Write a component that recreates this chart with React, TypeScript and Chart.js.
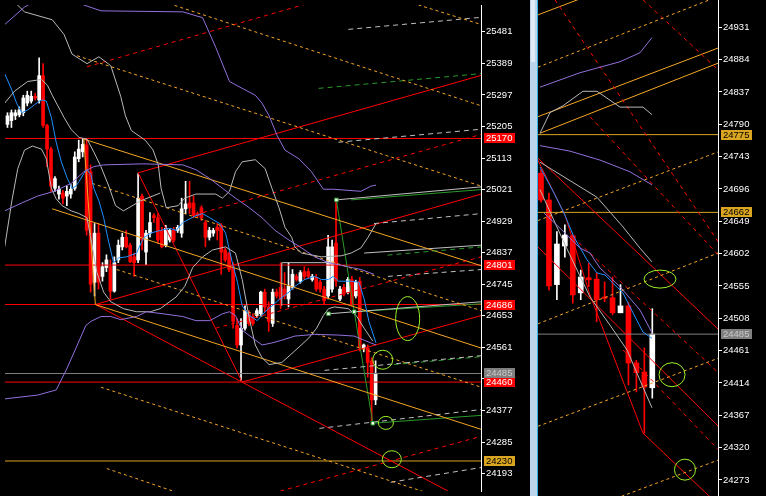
import React, { useEffect, useRef } from "react";
import { Chart, registerables } from "chart.js";
Chart.register(...registerables);

type Pt = [number, number];

// ---------- LEFT PANEL DATA ----------
const L_OPEN = [25211,25222,25236,25239,25245,25273,25279,25293,25282,25353,25208,25139,25025,25008,25011,25002,25008,25025,25111,25131,25151,25073,24751,24894,24768,24794,24796,24725,24816,24854,24882,24859,24825,24816,25002,24839,24894,24945,24939,24902,24859,24874,24902,24902,24894,24965,24982,24982,24951,24968,24925,24882,24894,24911,24917,24845,24836,24796,24625,24568,24617,24659,24651,24654,24659,24722,24679,24631,24722,24736,24731,24702,24736,24768,24754,24782,24782,24759,24765,24751,24731,24711,24731,24865,24702,24736,24722,24759,24711,24754,24559,24559,24522,24408];
const L_HIGH = [25245,25253,25253,25262,25296,25308,25308,25302,25405,25388,25211,25145,25059,25031,25019,25031,25036,25131,25165,25170,25168,25093,24922,24922,24808,24831,24816,24825,24874,24894,24902,24865,24836,25068,25008,24902,24954,24951,24951,24911,24917,24908,24911,24917,24996,25045,25045,25002,24956,24974,24931,24911,24908,24922,24922,24851,24839,24808,24645,24645,24682,24668,24659,24674,24725,24731,24694,24731,24731,24808,24779,24808,24788,24774,24785,24796,24791,24774,24774,24757,24739,24888,24874,24988,24739,24745,24765,24768,24757,24765,24571,24568,24531,24522];
const L_LOW = [25202,25202,25225,25233,25236,25265,25273,25282,25273,25202,25088,25016,25016,24993,24979,24974,24996,25019,25102,25116,24888,24722,24711,24731,24754,24782,24702,24722,24808,24845,24851,24808,24768,24808,24845,24802,24882,24925,24865,24851,24854,24868,24868,24896,24882,24951,24951,24939,24939,24931,24854,24874,24885,24874,24774,24811,24782,24617,24559,24465,24611,24625,24625,24648,24654,24665,24608,24622,24705,24674,24702,24679,24731,24754,24748,24759,24762,24754,24725,24722,24688,24702,24722,24739,24697,24711,24717,24682,24705,24551,24548,24474,24340,24394];
const L_CLOSE = [25236,25245,25245,25253,25288,25296,25293,25288,25353,25208,25139,25031,25053,25022,24996,25016,25022,25116,25139,25153,24902,24745,24894,24751,24796,24816,24725,24808,24859,24882,24854,24811,24808,24996,24874,24894,24925,24939,24874,24854,24908,24902,24874,24911,24965,24979,24968,24945,24945,24939,24882,24902,24902,24902,24839,24816,24788,24637,24568,24617,24668,24631,24631,24668,24722,24679,24637,24722,24711,24702,24711,24739,24774,24759,24779,24768,24768,24768,24731,24731,24697,24854,24854,24754,24731,24717,24759,24688,24751,24559,24568,24517,24408,24485];

const L_TICKS = [25481,25389,25297,25205,25113,25021,24929,24837,24745,24653,24561,24469,24377,24285,24193];
const L_RED_LEVELS = [25170, 24801, 24686, 24460];
const L_GRAY_LEVELS = [24485];
const L_GOLD_LEVELS = [24230];

const L_BLUE: Pt[] = [[-0.7,25359],[1.1,25311],[2.3,25273],[3.6,25245],[5.1,25253],[6.8,25268],[8.1,25279],[8.8,25282],[9.8,25279],[11.1,25231],[12.3,25159],[13.6,25102],[15.1,25054],[16.3,25025],[17.3,25031],[18.1,25045],[19.3,25068],[20.1,25079],[21.1,25065],[21.8,25025],[23.1,24988],[24.3,24939],[25.3,24882],[26.8,24808],[28.1,24822],[30.1,24825],[32.6,24836],[34.3,24879],[36.1,24894],[38.6,24902],[41.1,24908],[42.6,24902],[44.3,24925],[47.6,24945],[49.3,24951],[51.1,24939],[53.6,24922],[55.1,24894],[56.8,24808],[58.1,24751],[59.3,24682],[61.1,24654],[63.1,24639],[65.1,24665],[66.8,24682],[68.8,24702],[71.1,24722],[72.6,24739],[75.1,24759],[77.6,24768],[79.3,24759],[81.1,24759],[82.3,24768],[83.6,24754],[86.8,24754],[88.8,24751],[90.1,24702],[91.3,24637],[93.1,24574]];
const L_BB_UP: Pt[] = [[1.3,25573],[4.3,25539],[11.3,25516],[14.3,25473],[16.3,25416],[20.1,25388],[23.1,25408],[26.1,25382],[28.6,25293],[29.8,25236],[31.3,25193],[34.8,25165],[36.8,25136],[38.1,25093],[38.8,25025],[40.1,24968],[43.1,24974],[44.8,24996],[47.6,25008],[52.6,25008],[54.3,24996],[56.1,25016],[57.6,25073],[59.3,25102],[62.6,25108],[65.1,25082],[66.8,25025],[68.6,24968],[70.1,24911],[71.8,24882],[72.6,24854],[74.3,24836],[79.3,24825],[84.3,24828],[86.8,24836],[89.3,24851],[91.1,24882],[93.1,24922]];
const L_BB_MID: Pt[] = [[-0.7,25273],[1.8,25308],[5.1,25336],[8.6,25342],[10.1,25325],[11.3,25296],[12.6,25268],[14.3,25231],[16.1,25196],[18.1,25173],[20.1,25168],[21.8,25131],[23.6,25088],[25.6,25031],[27.3,24974],[29.3,24959],[33.6,24988],[38.6,25011]];
const L_BB_LOW: Pt[] = [[-0.7,24854],[1.1,24988],[2.6,25082],[4.3,25136],[6.3,25148],[8.6,25139],[9.8,25111],[11.1,25025],[12.3,24994],[13.8,24974],[16.1,24959],[18.1,24951],[20.1,24939],[22.6,24779],[24.3,24722],[26.1,24694],[29.3,24674],[32.6,24665],[36.1,24665],[38.6,24674],[42.6,24708],[44.8,24739],[46.8,24794],[49.3,24825],[51.8,24845],[55.1,24854],[57.6,24836],[59.3,24759],[61.1,24645],[62.6,24568],[64.3,24531],[66.1,24511],[69.3,24517],[72.6,24551],[76.1,24588],[78.1,24617],[79.8,24654],[81.1,24674],[82.6,24679],[86.1,24674],[88.1,24654],[90.1,24617],[92.3,24579]];
const L_PURPLE_TOP: Pt[] = [[-0.7,25502],[4.3,25553],[11.8,25602],[19.3,25559],[23.6,25542],[44.3,25539],[49.3,25522],[52.6,25436],[56.1,25336],[59.3,25316],[62.6,25296],[64.3,25273],[66.1,25236],[68.1,25179],[70.1,25136],[73.6,25111],[76.8,25073],[79.8,25022],[82.3,25022],[89.3,25016],[91.8,25031],[93.1,25034]];
const L_PURPLE_MID: Pt[] = [[-0.7,24959],[3.6,24982],[7.6,25002],[11.8,25016],[16.1,25039],[19.3,25073],[21.8,25088],[24.3,25093],[34.3,25096],[44.3,25093],[47.6,25079],[51.1,25053],[54.3,25025],[57.6,24996],[61.1,24968],[64.3,24939],[67.6,24902],[71.1,24874],[74.3,24851],[77.6,24825],[81.1,24808],[86.1,24796],[89.3,24788],[92.6,24774]];
const L_PURPLE_LOW: Pt[] = [[-0.7,24411],[7.6,24422],[12.3,24437],[14.8,24494],[17.3,24559],[19.8,24625],[21.1,24637],[23.6,24651],[26.1,24651],[28.6,24642],[32.6,24651],[35.1,24665],[39.3,24659],[44.3,24651],[47.6,24639],[51.1,24639],[54.3,24659],[56.1,24665],[57.6,24654],[59.3,24611],[64.3,24568],[66.8,24574],[69.3,24582],[72.6,24594],[77.6,24599],[83.6,24597],[87.6,24594],[90.1,24582],[93.1,24568]];

// trend objects (index, price)
const L_RED_SOLID: Pt[][] = [
  [[33,25070],[119.7,25354]],
  [[22.2,24686],[119.7,25008]],
  [[59.3,24460],[119.7,24654]],
  [[33,25070],[59.3,24460]],
  [[22.2,24686],[119.7,24091]],
];
const L_RED_DASH: Pt[][] = [
  [[20.1,25379],[90,25610]],
  [[49.4,24954],[119.7,25182]],
  [[52.6,24617],[119.7,24825]],
  [[65,24130],[119.7,24302]],
];
const L_ORANGE_SOLID: Pt[][] = [
  [[19.3,25168],[119.7,24799]],
  [[11.3,24965],[119.7,24559]],
  [[22.2,24686],[119.7,24322]],
  [[19.3,25168],[22.2,24686]],
];
const L_ORANGE_DASH: Pt[][] = [
  [[17.6,25411],[119.7,25031]],
  [[35,25585],[119.7,25265]],
  [[98,25580],[119.7,25502]],
  [[21.4,25039],[119.7,24668]],
  [[27.6,24788],[119.7,24445]],
  [[23.6,24445],[112,24115]],
  [[25.1,24208],[50,24110]],
];
const L_GRAY_DASH: Pt[][] = [
  [[86.1,25488],[119.7,25523]],
  [[83.6,25159],[119.7,25197]],
  [[92.6,24922],[119.7,24951]],
  [[96.1,24768],[119.7,24788]],
  [[80.1,24494],[119.7,24537]],
  [[78.8,24325],[119.7,24380]],
  [[96.8,24168],[119.7,24211]],
];
const L_GREEN_DASH: Pt[][] = [
  [[78.6,25316],[119.7,25359]],
  [[97.6,24511],[119.7,24534]],
  [[96,24830],[119.7,24854]],
];
const L_GRAY_SOLID: Pt[][] = [
  [[83.1,24991],[119.7,25029]],
  [[81.1,24659],[119.7,24694]],
  [[90.1,24836],[119.7,24859]],
  [[69.3,24682],[69.3,24808],[82.6,24808]],
];
const L_GREEN_SOLID: Pt[][] = [
  [[86.8,24991],[119.7,25021]],
  [[87.6,24665],[119.7,24688]],
  [[92.3,24340],[119.7,24363]],
  [[83.1,24991],[87.6,24665],[92.3,24340]],
];
const L_SQUARES: Pt[] = [[83.1,24991],[81.1,24659],[87.6,24665],[92.3,24340]];
const L_ELLIPSES: Pt[] = [[101.1,24645],[94.8,24525],[95.6,24341],[97.1,24235]];
const L_ELLIPSE_R: Pt[] = [[12,22],[10,9.5],[7.5,6.5],[9.5,8.5]];

// ---------- RIGHT PANEL DATA ----------
const R_OPEN = [24719,24680,24557,24613,24628,24545,24567,24565,24539,24538,24516,24526,24443,24430,24407];
const R_HIGH = [24724,24690,24634,24644,24629,24578,24588,24574,24561,24568,24557,24531,24447,24465,24522];
const R_LOW = [24677,24549,24535,24597,24530,24535,24554,24503,24532,24513,24516,24411,24401,24341,24392];
const R_CLOSE = [24680,24555,24616,24629,24542,24568,24564,24535,24537,24516,24526,24443,24429,24408,24485];

const R_TICKS = [24931,24884,24837,24790,24743,24696,24649,24602,24555,24508,24461,24414,24367,24320,24273];
const R_GOLD_LEVELS = [24775, 24662];
const R_GRAY_LEVELS = [24485];

const R_BLUE: Pt[] = [[-0.13,24728],[1.64,24690],[2.89,24661],[4.15,24626],[5.79,24593],[7.04,24574],[8.05,24571],[9.06,24559],[10.31,24545],[11.57,24516],[12.83,24488],[13.96,24479]];
const R_PURPLE_TOP: Pt[] = [[-0.13,24844],[4.91,24865],[9.94,24881],[12.45,24894],[13.96,24916]];
const R_PURPLE_MID: Pt[] = [[-0.13,24759],[3.65,24751],[7.42,24738],[11.19,24721],[13.96,24702]];
const R_PURPLE_LOW: Pt[] = [[0.38,24661],[2.39,24639],[4.91,24610],[6.16,24603],[7.42,24581],[9.94,24554],[12.45,24520],[13.96,24487]];
const R_GRAY_TOP: Pt[] = [[-0.13,24777],[1.13,24807],[2.77,24817],[5.28,24838],[7.04,24838],[9.94,24815],[12.83,24815],[13.96,24804]];
const R_GRAY_MID: Pt[] = [[-0.13,24735],[7.04,24684],[10.31,24641],[12.45,24610],[13.96,24590]];
const R_GRAY_LOW: Pt[] = [[-0.13,24695],[3.02,24615],[6.16,24539],[8.68,24498],[10.82,24462],[12.45,24418],[13.96,24378]];

const R_ORANGE_SOLID: Pt[][] = [
  [[-0.4,24801],[22.3,24901]],
  [[-0.13,24777],[22.3,24879]],
  [[-0.4,24949],[5.5,24975]],
];
const R_ORANGE_DASH: Pt[][] = [
  [[-0.4,24873],[22.3,24976]],
  [[-0.4,24650],[22.3,24750]],
  [[-0.4,24500],[22.3,24603]],
  [[-0.4,24351],[22.3,24450]],
  [[8,24240],[22.3,24302]],
];
const R_RED_SOLID: Pt[][] = [
  [[-0.4,24741],[22.3,24492]],
  [[-0.4,24612],[22.3,24351]],
  [[-0.4,24738],[3.02,24658],[6.16,24542],[12.83,24341],[22.3,24237]],
];
const R_RED_DASH: Pt[][] = [
  [[1.76,24971],[22.3,24619]],
  [[12.83,24971],[22.3,24869]],
  [[6.16,24801],[22.3,24600]],
  [[4,24626],[22.3,24429]],
  [[10.31,24462],[22.3,24317]],
];
const R_ELLIPSES: Pt[] = [[14.97,24565],[16.48,24426],[18.11,24288]];
const R_ELLIPSE_R: Pt[] = [[16,9],[13,12],[10.5,10.5]];

// ---------- STYLE ----------
const RED = "#ff0000";
const WHITE = "#ffffff";
const ORANGE = "#f5a623";
const GOLD = "#daa520";
const LVLGRAY = "#808080";
const SILVER = "#c0c0c0";
const GREEN = "#2a9a2a";
const LIME = "#9cf02a";
const BLUE = "#1e90ff";
const PURPLE = "#9370db";
const BB = "#b8b8b8";
const FONT = "Liberation Sans";
const FONT_SIZE = 9.5;

type Seg = { pts: Pt[]; color: string; dash?: number[] };
type Box = { value: number; bg: string; fg: string };

interface Panel {
  open: number[]; high: number[]; low: number[]; close: number[];
  bodyW: number; xMin: number; xMax: number; yMin: number; yMax: number;
  ticks: number[]; segs: Seg[]; squares: Pt[]; ellipses: Pt[]; radii: Pt[];
  boxes: Box[]; axisW: number;
}

function levelSegs(levels: number[], color: string, xMin: number, xMax: number): Seg[] {
  return levels.map((v) => ({ pts: [[xMin - 1, v], [xMax + 1, v]] as Pt[], color }));
}
function segs(list: Pt[][], color: string, dash?: number[]): Seg[] {
  return list.map((pts) => ({ pts, color, dash }));
}

function makeChart(canvas: HTMLCanvasElement, p: Panel) {
  const idx = p.open.map((_, i) => i);
  const col = p.open.map((o, i) => (p.close[i] >= o ? WHITE : RED));
  const datasets: any[] = [];
  datasets.push({
    type: "line", data: p.squares.map(([x, y]) => ({ x, y })), showLine: false,
    pointStyle: "rect", pointRadius: 2.5, pointBackgroundColor: WHITE,
    pointBorderColor: GREEN, pointBorderWidth: 1, order: 0,
  });
  p.segs.forEach((s) => {
    datasets.push({
      type: "line", data: s.pts.map(([x, y]) => ({ x, y })), borderColor: s.color,
      borderWidth: 1, borderDash: s.dash || [], pointRadius: 0, tension: 0,
      fill: false, order: 1,
    });
  });
  datasets.push({
    type: "bar", data: idx.map((i) => ({ x: i, y: [p.open[i], p.close[i]] })),
    backgroundColor: col, barThickness: p.bodyW, grouped: false, minBarLength: 1,
    borderWidth: 0, order: 20,
  });
  datasets.push({
    type: "bar", data: idx.map((i) => ({ x: i, y: [p.low[i], p.high[i]] })),
    backgroundColor: col, barThickness: 1, grouped: false, borderWidth: 0, order: 21,
  });

  const overlay = {
    id: "overlay",
    afterDatasetsDraw(chart: any) {
      const { ctx, chartArea, scales } = chart;
      ctx.save();
      ctx.beginPath();
      ctx.rect(chartArea.left, chartArea.top, chartArea.right - chartArea.left, chartArea.bottom - chartArea.top);
      ctx.clip();
      ctx.strokeStyle = LIME;
      ctx.lineWidth = 1;
      p.ellipses.forEach(([ex, ey], k) => {
        const cx = scales.x.getPixelForValue(ex);
        const cy = scales.y.getPixelForValue(ey);
        ctx.beginPath();
        ctx.ellipse(cx, cy, p.radii[k][0], p.radii[k][1], 0, 0, Math.PI * 2);
        ctx.stroke();
      });
      ctx.restore();
    },
    afterDraw(chart: any) {
      const { ctx, chartArea, scales } = chart;
      ctx.save();
      ctx.font = `${FONT_SIZE}px "${FONT}"`;
      ctx.textBaseline = "middle";
      ctx.textAlign = "left";
      p.boxes.forEach((b) => {
        const y = Math.round(scales.y.getPixelForValue(b.value));
        const x = chartArea.right + 3;
        ctx.fillStyle = b.bg;
        ctx.fillRect(x, y - 5, 31, 10);
        ctx.fillStyle = b.fg;
        ctx.fillText(String(b.value), x + 2, y + 0.5);
      });
      ctx.restore();
    },
  };

  return new Chart(canvas, {
    type: "bar",
    data: { datasets },
    plugins: [overlay],
    options: {
      animation: false, responsive: false, devicePixelRatio: 1, events: [],
      layout: { padding: 0 },
      plugins: { legend: { display: false }, tooltip: { enabled: false } },
      scales: {
        x: { type: "linear", min: p.xMin, max: p.xMax, display: false, offset: false },
        y: {
          type: "linear", position: "right", min: p.yMin, max: p.yMax,
          afterBuildTicks: (s: any) => { s.ticks = p.ticks.map((v) => ({ value: v })); },
          afterFit: (s: any) => { s.width = p.axisW; s.paddingTop = 0; s.paddingBottom = 0; },
          ticks: { color: WHITE, font: { family: FONT, size: FONT_SIZE }, padding: 1, autoSkip: false, callback: (v: any) => String(v) },
          grid: { drawOnChartArea: false, drawTicks: true, tickLength: 4, color: WHITE },
          border: { display: true, color: WHITE, width: 1 },
        },
      },
    } as any,
  } as any);
}

const LX: Pt = [-0.625, 119.625];
const RX: Pt = [-0.377, 22.264];

const leftPanel: Panel = {
  open: L_OPEN, high: L_HIGH, low: L_LOW, close: L_CLOSE, bodyW: 3,
  xMin: LX[0], xMax: LX[1], yMin: 24142.5, yMax: 25559, ticks: L_TICKS, axisW: 49,
  segs: [
    { pts: L_PURPLE_TOP, color: PURPLE }, { pts: L_PURPLE_MID, color: PURPLE }, { pts: L_PURPLE_LOW, color: PURPLE },
    { pts: L_BB_UP, color: BB }, { pts: L_BB_MID, color: BB }, { pts: L_BB_LOW, color: BB },
    { pts: L_BLUE, color: BLUE },
    ...segs(L_ORANGE_DASH, ORANGE, [3, 3]),
    ...segs(L_RED_DASH, RED, [4, 4]),
    ...segs(L_GRAY_DASH, SILVER, [5, 4]),
    ...segs(L_GREEN_DASH, GREEN, [5, 4]),
    ...segs(L_ORANGE_SOLID, ORANGE),
    ...segs(L_RED_SOLID, RED),
    ...segs(L_GRAY_SOLID, SILVER),
    ...segs(L_GREEN_SOLID, GREEN),
    ...levelSegs(L_RED_LEVELS, RED, LX[0], LX[1]),
    ...levelSegs(L_GRAY_LEVELS, LVLGRAY, LX[0], LX[1]),
    ...levelSegs(L_GOLD_LEVELS, GOLD, LX[0], LX[1]),
  ],
  squares: L_SQUARES, ellipses: L_ELLIPSES, radii: L_ELLIPSE_R,
  boxes: [
    ...L_RED_LEVELS.map((v) => ({ value: v, bg: RED, fg: WHITE })),
    ...L_GRAY_LEVELS.map((v) => ({ value: v, bg: LVLGRAY, fg: "#c8c8c8" })),
    ...L_GOLD_LEVELS.map((v) => ({ value: v, bg: GOLD, fg: "#000000" })),
  ],
};

const rightPanel: Panel = {
  open: R_OPEN, high: R_HIGH, low: R_LOW, close: R_CLOSE, bodyW: 5,
  xMin: RX[0], xMax: RX[1], yMin: 24249.7, yMax: 24970.7, ticks: R_TICKS, axisW: 48,
  segs: [
    { pts: R_PURPLE_TOP, color: PURPLE }, { pts: R_PURPLE_MID, color: PURPLE }, { pts: R_PURPLE_LOW, color: PURPLE },
    { pts: R_GRAY_TOP, color: BB }, { pts: R_GRAY_MID, color: BB }, { pts: R_GRAY_LOW, color: BB },
    { pts: R_BLUE, color: BLUE },
    ...segs(R_ORANGE_DASH, ORANGE, [3, 3]),
    ...segs(R_RED_DASH, RED, [4, 4]),
    ...segs(R_ORANGE_SOLID, ORANGE),
    ...segs(R_RED_SOLID, RED),
    ...levelSegs(R_GOLD_LEVELS, GOLD, RX[0], RX[1]),
    ...levelSegs(R_GRAY_LEVELS, LVLGRAY, RX[0], RX[1]),
  ],
  squares: [], ellipses: R_ELLIPSES, radii: R_ELLIPSE_R,
  boxes: [
    ...R_GOLD_LEVELS.map((v) => ({ value: v, bg: GOLD, fg: "#000000" })),
    ...R_GRAY_LEVELS.map((v) => ({ value: v, bg: LVLGRAY, fg: "#c8c8c8" })),
  ],
};

export default function App() {
  const leftRef = useRef<HTMLCanvasElement | null>(null);
  const rightRef = useRef<HTMLCanvasElement | null>(null);
  useEffect(() => {
    const a = makeChart(leftRef.current!, leftPanel);
    const b = makeChart(rightRef.current!, rightPanel);
    return () => { a.destroy(); b.destroy(); };
  }, []);
  return (
    <div style={{ position: "fixed", left: 0, top: 0, width: 766, height: 496, background: "#000", overflow: "hidden" }}>
      <canvas ref={leftRef} width={530} height={496} style={{ position: "absolute", left: 0, top: 0, width: 530, height: 496 }} />
      <div style={{ position: "absolute", left: 530, top: 0, width: 7, height: 496, background: "#bcd3ec" }} />
      <div style={{ position: "absolute", left: 531, top: 0, width: 4, height: 62, background: "#e0eaf6" }} />
      <div style={{ position: "absolute", left: 537, top: 0, width: 1, height: 496, background: "#34aee6" }} />
      <canvas ref={rightRef} width={228} height={496} style={{ position: "absolute", left: 538, top: 0, width: 228, height: 496 }} />
    </div>
  );
}
